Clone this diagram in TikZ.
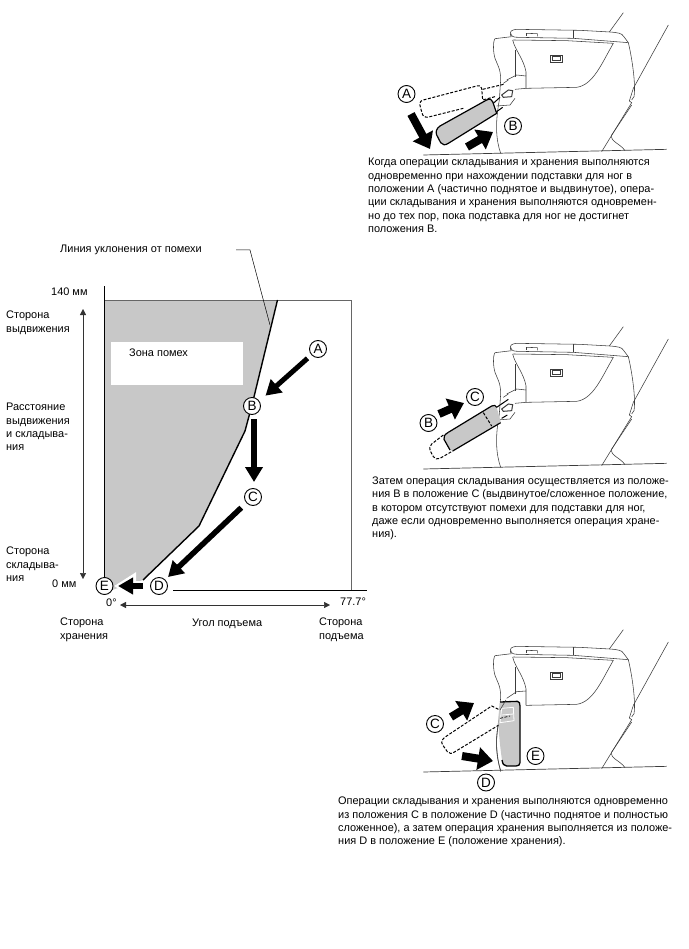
\documentclass[tikz,border=0pt]{standalone}
\usepackage{fontspec}
\setmainfont{Liberation Sans}
\usetikzlibrary{arrows.meta}
\definecolor{zonegray}{RGB}{200,200,200}
\definecolor{seatline}{RGB}{60,60,60}
\tikzset{
  txt/.style={anchor=north west,inner sep=0pt,align=left,font=\fontsize{10.95}{13.35}\selectfont},
  lbl/.style={circle,draw=black,fill=white,line width=0.9pt,minimum size=17pt,inner sep=0pt,font=\fontsize{13.5}{13.5}\selectfont},
  blockarrow/.style={line width=5.5pt,-{Triangle[length=15pt,width=17pt]},black},
  bigarrow/.style={line width=8pt,-{Triangle[length=15pt,width=22pt]},black},
  thinarrow/.style={line width=0.5pt,draw=black!80,-{Triangle[length=6pt,width=6pt]}},
  seat/.style={line width=0.55pt,draw=seatline},
  dash line/.style={line width=1pt,dash pattern=on 3pt off 1.6pt},
  rest/.style={fill=zonegray,draw=black,line width=1.2pt},
}
\newcommand{\seatdrawing}{%
  % lid
  \draw[seat] (392,108) .. controls (388,92) and (395,90) .. (410,88) -- (600,91) -- (690,96) .. controls (715,98) and (725,100) .. (730,108) -- (745,128);
  \draw[seat] (392,100) .. controls (395,110) and (400,112) .. (415,112) -- (580,115) -- (745,128);
  \draw[seat] (345,116) -- (395,110);
  \draw[seat] (400,120) -- (560,122) -- (700,130);
  \draw[seat] (580,91) -- (580,115);
  \draw[seat] (438,100) -- (438,109); \draw[seat] (438,100) -- (472,101) -- (472,109);
  % left side
  \draw[seat] (345,116) .. controls (338,125) and (340,160) .. (345,175) .. controls (352,195) and (362,205) .. (362,240) -- (358,300) .. controls (345,370) and (348,420) .. (362,460);
  % pocket
  \draw[seat] (398,120) .. controls (405,150) and (430,175) .. (438,215) -- (438,265);
  \draw[seat] (405,150) -- (405,230);
  \draw[seat] (438,265) -- (590,262) .. controls (640,255) and (665,190) .. (700,130);
  % right side
  \draw[seat] (745,128) .. controls (755,170) and (768,250) .. (762,290) -- (755,300);
  \draw[seat] (865,75) -- (760,265) -- (748,303) -- (755,308) -- (665,455);
  \draw[seat] (755,315) -- (695,405);
  \draw[seat] (695,405) .. controls (690,425) and (720,430) .. (735,452);
  \draw[seat] (730,38) -- (688,96);
  % switch
  \draw[seat] (510,165) rectangle (546,187);
  \draw[seat] (516,170) rectangle (540,182);
  % floor
  \draw[seat,line width=0.7pt] (130,465) -- (860,448);
}
\newcommand{\latch}{%
  \draw[seat] (380,240) -- (410,225) -- (438,228);
  \draw[seat] (405,268) -- (438,265);
  \draw[seat,line width=1pt] (365,285) -- (385,270) -- (398,272) -- (395,290) -- (370,292) -- cycle;
  \draw[seat] (350,318) -- (390,315) -- (405,295);
  \draw[seat] (370,250) -- (385,240);
}
\begin{document}
\begin{tikzpicture}[x=1pt,y=-1pt]
\useasboundingbox (0,0) rectangle (688,949);
\fill[white] (0,0) rectangle (688,949);

% ---- Graph ----
\fill[zonegray] (105,300) -- (277,300) -- (252,405) -- (245,431) -- (199,526) -- (143,580) -- (112,590) -- (105,590) -- cycle;
\fill[white] (111,342) rectangle (243,385);
\draw[line width=0.8pt,draw=black!60] (104,300) -- (351,300) -- (351,590);
\draw[line width=1pt] (104,286) -- (104,580);
\draw[line width=1pt] (173,590) -- (367,590);
\draw[line width=1.4pt] (277.5,300) -- (252,405) -- (245,431) -- (199,526) -- (143,580);

\node[txt,anchor=west] (zone) at (129,353) {Зона помех};
\node[txt,anchor=west] (leader) at (60,250) {Линия уклонения от помехи};
\coordinate (leadA) at (236,250);
\coordinate (leadB) at (250,250);
\coordinate (leadC) at (270,325);
\draw[line width=0.5pt] (leadA) -- (leadB) -- (leadC);

\node[lbl] (A) at (318,349) {A};
\node[lbl] (B) at (252,406) {B};
\node[lbl] (C) at (253,497) {C};
\node[lbl] (D) at (159,586) {D};
\node[lbl] (E) at (104.5,586) {E};

\draw[blockarrow,line width=5pt,shorten >=2pt,shorten <=2pt] (309,357) -- (264,397);
\draw[blockarrow,shorten <=4pt,shorten >=2pt] (254,415) -- (254,484);
\draw[blockarrow,shorten <=1pt] (242,507) -- (168,577);
\draw[white,line width=10pt,-{Triangle[length=22pt,width=26pt]}] (143,586) -- (114,586);
\draw[blockarrow,line width=6pt,-{Triangle[length=15pt,width=16pt]}] (143,586) -- (118,586);

\coordinate (up0) at (83,460);
\coordinate (upT) at (83,309);
\coordinate (upB) at (83,579);
\draw[thinarrow] (up0) -- (upT);
\draw[thinarrow] (up0) -- (upB);
\coordinate (hz0) at (225,605);
\coordinate (hzL) at (120,605);
\coordinate (hzR) at (330,605);
\draw[thinarrow] (hz0) -- (hzL);
\draw[thinarrow] (hz0) -- (hzR);

\node[txt,anchor=west] (t140) at (51,292) {140 мм};
\node[txt] (t1) at (6,311) {Сторона\\выдвижения};
\node[txt] (t2) at (6,403) {Расстояние\\выдвижения\\и складыва-\\ния};
\node[txt] (t3) at (6,547) {Сторона\\складыва-\\ния};
\node[txt,anchor=west] (t0) at (52,584) {0 мм};
\node[txt,anchor=west] (tdeg) at (106,603) {0°};
\node[txt,anchor=west] (tdeg2) at (340,602) {77.7°};
\node[txt] (t4) at (60,618) {Сторона\\хранения};
\node[txt,anchor=west] (t5) at (192,624) {Угол подъема};
\node[txt] (t6) at (319,618) {Сторона\\подъема};

% ---- Scene 1 ----
\begin{scope}[shift={(380,0)},scale=1/3]
  \seatdrawing \latch
  \draw[dash line] (345,290) -- (308,300) -- (305,265) .. controls (303,256) and (298,256) .. (290,258) -- (130,300) .. controls (118,304) and (118,310) .. (122,325) -- (128,345) .. controls (132,353) and (140,352) .. (150,350) -- (250,325);
  \draw[dash line] (308,268) -- (375,252);
  \draw[rest] (180,378) -- (320,300) .. controls (330,295) and (335,298) .. (338,305) -- (350,340) -- (205,430) .. controls (195,437) and (188,435) .. (182,428) -- (170,405) .. controls (166,395) and (170,385) .. (180,378) -- cycle;
  \draw[line width=1pt] (340,310) -- (360,292);
  \draw[line width=1pt] (350,335) -- (368,322);
\end{scope}
\node[lbl] (sA1) at (406.5,94) {A};
\node[lbl] (sB1) at (513,126) {B};
\coordinate (a1s) at (411,114);
\coordinate (a1e) at (430,149);
\coordinate (b1s) at (467,147);
\coordinate (b1e) at (493,132);
\draw[bigarrow] (a1s) -- (a1e);
\draw[bigarrow] (b1s) -- (b1e);
\node[txt] (p1) at (368,158) {Когда операции складывания и хранения выполняются\\одновременно при нахождении подставки для ног в\\положении A (частично поднятое и выдвинутое), опера-\\ции складывания и хранения выполняются одновремен-\\но до тех пор, пока подставка для ног не достигнет\\положения B.};

% ---- Scene 2 ----
\begin{scope}[shift={(380,314)},scale=1/3]
  \seatdrawing \latch
\end{scope}
\begin{scope}[shift={(400,320)},scale=1/3]
  \draw[dash line] (130,345) -- (95,372) .. controls (88,378) and (88,385) .. (92,395) -- (100,410) .. controls (105,418) and (112,418) .. (120,415) -- (158,393);
  \fill[zonegray] (145,337) -- (275,258) .. controls (283,253) and (287,257) .. (290,262) -- (302,305) -- (158,393) -- (150,390) -- (132,358) .. controls (129,350) and (135,343) .. (145,337) -- cycle;
  \draw[line width=1.2pt] (158,393) -- (302,308);
  \draw[line width=1.2pt] (150,390) -- (132,358) .. controls (129,350) and (135,343) .. (145,337);
  \draw[line width=1.2pt] (145,337) -- (275,258) .. controls (283,253) and (287,257) .. (290,262);
  \draw[line width=1pt] (290,262) -- (325,238);
  \draw[line width=1pt] (305,295) -- (322,285);
  \draw[dash line] (250,278) -- (275,318);
\end{scope}
\node[lbl] (sC2) at (475,397) {C};
\node[lbl] (sB2) at (428.5,423) {B};
\coordinate (b2s) at (439,414);
\coordinate (b2e) at (464,403);
\draw[bigarrow] (b2s) -- (b2e);
\node[txt] (p2) at (372,476.5) {Затем операция складывания осуществляется из положе-\\ния B в положение C (выдвинутое/сложенное положение,\\в котором отсутствуют помехи для подставки для ног,\\даже если одновременно выполняется операция хране-\\ния).};

% ---- Scene 3 ----
\begin{scope}[shift={(380,617)},scale=1/3]
  \seatdrawing
\end{scope}
\begin{scope}[shift={(400,630)},scale=1/3]
  \draw[seat] (320,205) -- (350,185) -- (378,183);
  \draw[dash line] (295,238) -- (275,228) -- (140,318) .. controls (125,328) and (122,335) .. (128,345) -- (142,365) .. controls (148,372) and (155,372) .. (165,365) -- (300,283);
  \draw[fill=zonegray,draw=none] (300,216) -- (352,214) .. controls (358,214) and (360,220) .. (360,228) -- (360,398) .. controls (360,405) and (355,408) .. (348,408) -- (320,408) .. controls (312,408) and (308,402) .. (306,390) .. controls (300,350) and (295,300) .. (295,262) -- cycle;
  \draw[line width=1.3pt] (300,216) -- (352,214) .. controls (358,214) and (360,220) .. (360,228) -- (360,398) .. controls (360,405) and (355,408) .. (348,408) -- (320,408) .. controls (312,408) and (308,402) .. (306,390);
  \draw[white,line width=0.8pt] (305,235) -- (340,232) -- (342,272) -- (300,278) -- cycle;
  \draw[white,line width=0.8pt] (305,255) -- (340,252);
  \draw[seat] (300,240) -- (318,210);
  \draw[dash line,line width=0.7pt] (300,265) -- (330,258);
  \draw[seat] (295,285) .. controls (285,330) and (290,380) .. (302,425);
\end{scope}
\node[lbl] (sC3) at (435,724) {C};
\node[lbl] (sE3) at (535.5,756) {E};
\node[lbl] (sD3) at (486,782.5) {D};
\coordinate (c3s) at (451,717);
\coordinate (c3e) at (474,703);
\coordinate (d3s) at (462,756);
\coordinate (d3e) at (493,761);
\draw[bigarrow] (c3s) -- (c3e);
\draw[bigarrow] (d3s) -- (d3e);
\node[txt] (p3) at (338,797) {Операции складывания и хранения выполняются одновременно\\из положения C в положение D (частично поднятое и полностью\\сложенное), а затем операция хранения выполняется из положе-\\ния D в положение E (положение хранения).};
\end{tikzpicture}
\end{document}
